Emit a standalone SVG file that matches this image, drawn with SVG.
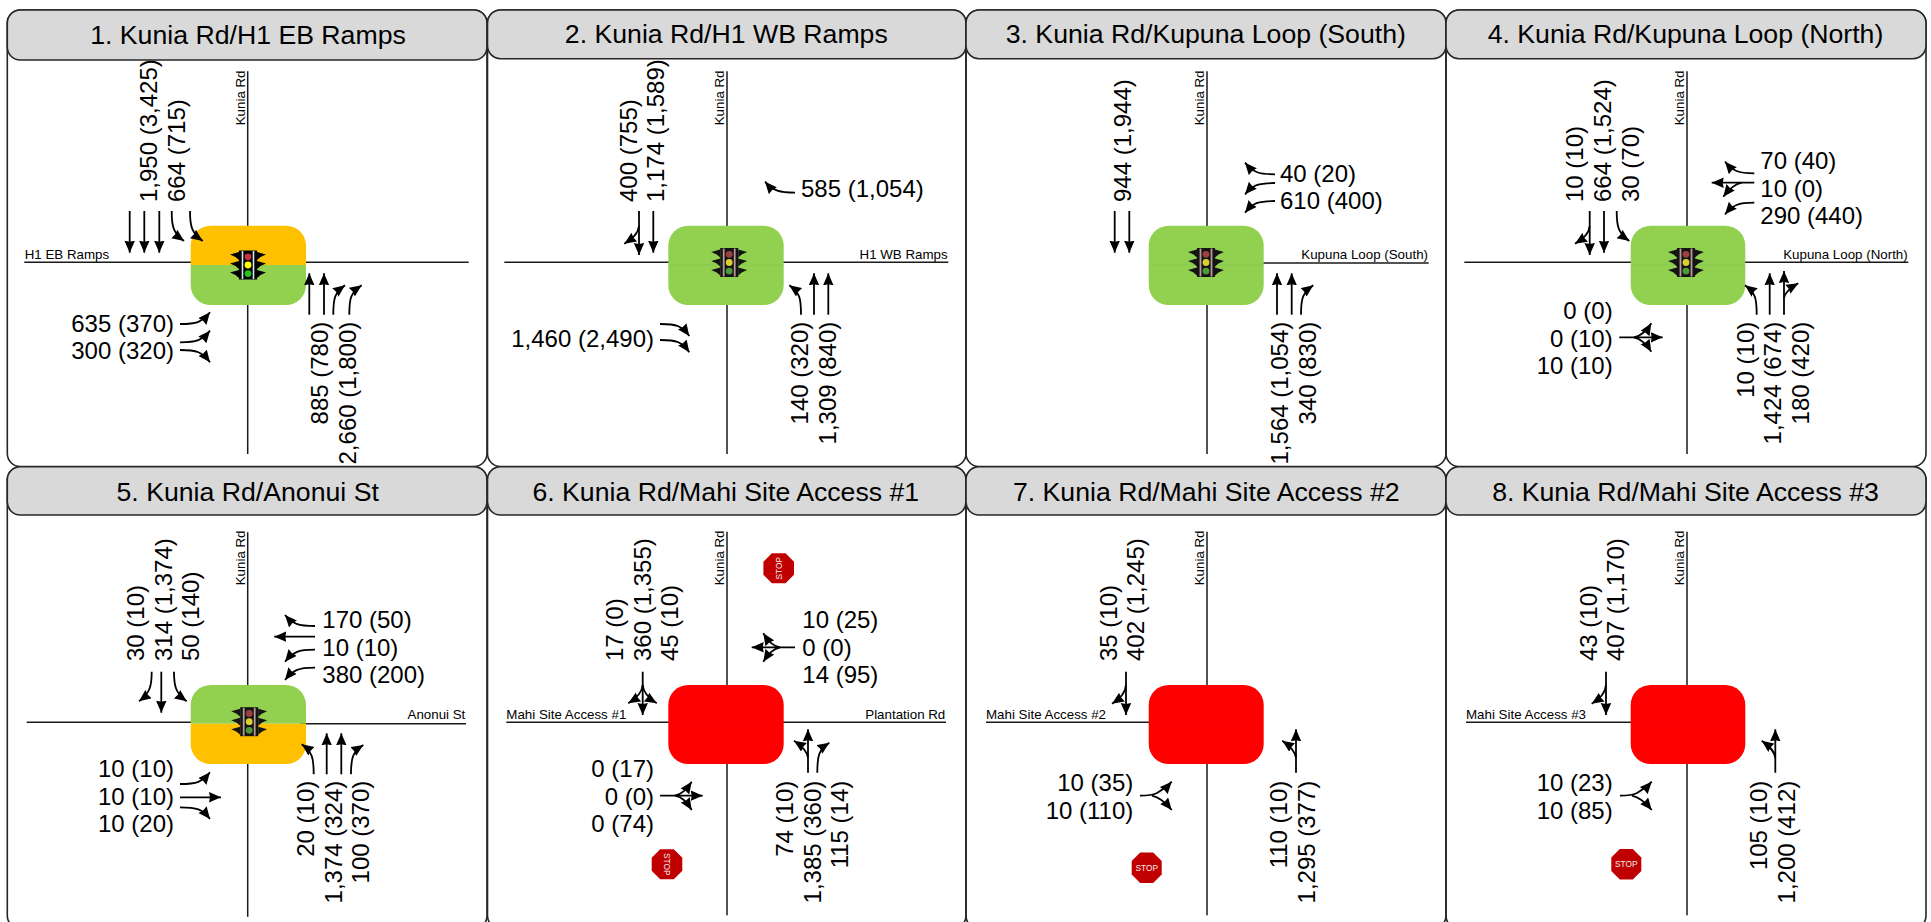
<svg xmlns="http://www.w3.org/2000/svg" width="1931" height="922" viewBox="0 0 1931 922">
<style>
text{font-family:"Liberation Sans",Arial,sans-serif;fill:#000}
.t{font-size:26.67px;text-anchor:middle}
.n{font-size:24px}
.e{text-anchor:end}
.r{font-size:13.33px}
.s{font-size:8.3px;fill:#eee;text-anchor:middle}
.p{fill:none;stroke:#262626;stroke-width:1.6}
.h{fill:#d9d9d9;stroke:#262626;stroke-width:1.6}
.road{stroke:#1a1a1a;stroke-width:1.5;fill:none}
.a{fill:none;stroke:#000;stroke-width:1.8;marker-end:url(#ah)}
.g{fill:#92d050}.o{fill:#ffc000}.x{fill:#f00}
.seam{stroke:#000;stroke-opacity:.05;stroke-width:1}
.oct{fill:#c00000}
</style>
<defs>
<marker id="ah" markerUnits="userSpaceOnUse" markerWidth="13" markerHeight="11" refX="12" refY="5.250" orient="auto"><path d="M0 0L12 5.250L0 10.500L1 5.250z" fill="#000"/></marker>
<g id="vis"><path d="M-9-13L-18-10.500L-12.500-8L-9-5z"/><path d="M9-13L18-10.500L12.500-8L9-5z"/></g>
<g id="sigA">
<use href="#vis"/><use href="#vis" y="9"/><use href="#vis" y="18"/>
<rect x="-9" y="-14.500" width="18" height="29" fill="#000"/>
<path d="M-5.500-14V14M5.500-14V14" stroke="#cfe4f5" stroke-width="1.600"/>
<circle cy="-8.200" r="3.400" fill="#c8323c"/><circle cy="0" r="3.400" fill="#ff0"/><circle cy="8.600" r="3.400" fill="#22c422"/>
</g>
<g id="sigB">
<use href="#vis" fill="#141414"/><use href="#vis" y="9" fill="#141414"/><use href="#vis" y="18" fill="#141414"/>
<rect x="-9" y="-14.500" width="18" height="29" fill="#141414"/>
<path d="M-5.500-14V14M5.500-14V14" stroke="#b89a9a" stroke-width="1.800"/>
<circle cy="-8.200" r="3.400" fill="#9c3f3f"/><circle cy="0" r="3.400" fill="#d8d030"/><circle cy="8.600" r="3.400" fill="#4f9a3a"/>
</g>
<polygon id="oct" points="-6.500,-15.300 6.500,-15.300 15,-6.800 15,6.800 6.500,15.300 -6.500,15.300 -15,6.800 -15,-6.800"/>
</defs>
<rect width="1931" height="922" fill="#fff"/>

<g id="roads" class="road">
<path d="M247.700 71.300V454M24.300 262.300H468.700"/>
<path d="M727 71.300V454M504.300 262.300H948.300"/>
<path d="M1207 71.300V454M1263 263H1428.700"/>
<path d="M1687 71.300V454M1464.300 262.300H1908.300"/>
<path d="M247.700 532.300V916.700M26.700 722.300H200M300 723.700H466"/>
<path d="M727 531.700V915.300M506.300 722.300H946"/>
<path d="M1207 531.700V915.300M986 722.300H1160"/>
<path d="M1687 531.700V915.300M1466 722.300H1640"/>
</g>

<g id="panel-1">
<rect class="p" x="7.300" y="10" width="479.700" height="456.500" rx="13"/>
<rect class="h" x="7.300" y="10" width="479.700" height="50" rx="13"/>
<text class="t" x="248" y="44.300">1. Kunia Rd/H1 EB Ramps</text>
<path class="o" d="M190.700 265V245.700a20 20 0 0 1 20-20h75.300a20 20 0 0 1 20 20V265z"/>
<path class="g" d="M190.700 265V285a20 20 0 0 0 20 20h75.300a20 20 0 0 0 20-20V265z"/>
<use href="#sigA" x="248" y="265"/>
<text class="r" transform="translate(245 125.300) rotate(-90)">Kunia Rd</text>
<text class="r" x="24.700" y="259.300">H1 EB Ramps</text>
<text class="n" transform="translate(157.300 202) rotate(-90)">1,950 (3,425)</text>
<text class="n" transform="translate(185 202) rotate(-90)">664 (715)</text>
<text class="n e" x="174" y="331.700">635 (370)</text>
<text class="n e" x="174" y="359.300">300 (320)</text>
<text class="n e" transform="translate(328.300 321.700) rotate(-90)">885 (780)</text>
<text class="n e" transform="translate(356 321.700) rotate(-90)">2,660 (1,800)</text>
</g>

<g id="panel-2">
<rect class="p" x="487.500" y="10" width="478.500" height="456.500" rx="13"/>
<rect class="h" x="487.500" y="10" width="478.500" height="48.700" rx="13"/>
<text class="t" x="726.300" y="43.300">2. Kunia Rd/H1 WB Ramps</text>
<rect class="g" x="668.300" y="225.700" width="115.400" height="79.300" rx="20"/>
<line class="seam" x1="668.300" y1="265" x2="783.700" y2="265"/>
<use href="#sigB" x="729.200" y="262.500"/>
<text class="r" transform="translate(724 125.300) rotate(-90)">Kunia Rd</text>
<text class="r e" x="947.700" y="259.300">H1 WB Ramps</text>
<text class="n" transform="translate(636.700 202) rotate(-90)">400 (755)</text>
<text class="n" transform="translate(664.300 202) rotate(-90)">1,174 (1,589)</text>
<text class="n" x="801" y="196.700">585 (1,054)</text>
<text class="n e" x="654" y="346.700">1,460 (2,490)</text>
<text class="n e" transform="translate(808.300 321.700) rotate(-90)">140 (320)</text>
<text class="n e" transform="translate(836 321.700) rotate(-90)">1,309 (840)</text>
</g>

<g id="panel-3">
<rect class="p" x="966" y="10" width="480" height="456.500" rx="13"/>
<rect class="h" x="966" y="10" width="480" height="48.700" rx="13"/>
<text class="t" x="1205.800" y="43.300">3. Kunia Rd/Kupuna Loop (South)</text>
<rect class="g" x="1148.700" y="225.700" width="115" height="79.300" rx="20"/>
<line class="seam" x1="1148.700" y1="265" x2="1263.700" y2="265"/>
<use href="#sigB" x="1206" y="262.500"/>
<text class="r" transform="translate(1204 125.300) rotate(-90)">Kunia Rd</text>
<text class="r e" x="1428" y="259.300">Kupuna Loop (South)</text>
<text class="n" transform="translate(1130.700 202) rotate(-90)">944 (1,944)</text>
<text class="n" x="1280" y="181.700">40 (20)</text>
<text class="n" x="1280" y="209.300">610 (400)</text>
<text class="n e" transform="translate(1288.300 321.700) rotate(-90)">1,564 (1,054)</text>
<text class="n e" transform="translate(1316 321.700) rotate(-90)">340 (830)</text>
</g>

<g id="panel-4">
<rect class="p" x="1446" y="10" width="480" height="456.500" rx="13"/>
<rect class="h" x="1446" y="10" width="480" height="48.700" rx="13"/>
<text class="t" x="1685.500" y="43.300">4. Kunia Rd/Kupuna Loop (North)</text>
<rect class="g" x="1630.700" y="225.700" width="114.600" height="79.300" rx="20"/>
<line class="seam" x1="1630.700" y1="265" x2="1745.300" y2="265"/>
<use href="#sigB" x="1686" y="262.500"/>
<text class="r" transform="translate(1684 125.300) rotate(-90)">Kunia Rd</text>
<text class="r e" x="1907.700" y="259.300">Kupuna Loop (North)</text>
<text class="n" transform="translate(1583.300 202) rotate(-90)">10 (10)</text>
<text class="n" transform="translate(1611 202) rotate(-90)">664 (1,524)</text>
<text class="n" transform="translate(1638.700 202) rotate(-90)">30 (70)</text>
<text class="n" x="1760.300" y="169">70 (40)</text>
<text class="n" x="1760.300" y="196.700">10 (0)</text>
<text class="n" x="1760.300" y="224">290 (440)</text>
<text class="n e" x="1612.700" y="319">0 (0)</text>
<text class="n e" x="1612.700" y="346.700">0 (10)</text>
<text class="n e" x="1612.700" y="374">10 (10)</text>
<text class="n e" transform="translate(1753.700 321.700) rotate(-90)">10 (10)</text>
<text class="n e" transform="translate(1781 321.700) rotate(-90)">1,424 (674)</text>
<text class="n e" transform="translate(1808.700 321.700) rotate(-90)">180 (420)</text>
</g>

<g id="panel-5">
<rect class="p" x="7.300" y="466.700" width="479.700" height="462" rx="13"/>
<rect class="h" x="7.300" y="466.700" width="479.700" height="48.300" rx="13"/>
<text class="t" x="247.700" y="500.700">5. Kunia Rd/Anonui St</text>
<path class="g" d="M190.700 723.700V705a20 20 0 0 1 20-20h75.300a20 20 0 0 1 20 20V723.700z"/>
<path class="o" d="M190.700 723.700V744a20 20 0 0 0 20 20h75.300a20 20 0 0 0 20-20V723.700z"/>
<use href="#sigB" x="249.200" y="721.700"/>
<text class="r" transform="translate(244.700 585.300) rotate(-90)">Kunia Rd</text>
<text class="r e" x="465.300" y="719.300">Anonui St</text>
<text class="n" transform="translate(144 661) rotate(-90)">30 (10)</text>
<text class="n" transform="translate(171.700 661) rotate(-90)">314 (1,374)</text>
<text class="n" transform="translate(199.300 661) rotate(-90)">50 (140)</text>
<text class="n" x="322.300" y="627.700">170 (50)</text>
<text class="n" x="322.300" y="655.700">10 (10)</text>
<text class="n" x="322.300" y="683.300">380 (200)</text>
<text class="n e" x="174" y="776.700">10 (10)</text>
<text class="n e" x="174" y="804.700">10 (10)</text>
<text class="n e" x="174" y="832">10 (20)</text>
<text class="n e" transform="translate(314 780.700) rotate(-90)">20 (10)</text>
<text class="n e" transform="translate(341.700 780.700) rotate(-90)">1,374 (324)</text>
<text class="n e" transform="translate(369.300 780.700) rotate(-90)">100 (370)</text>
</g>

<g id="panel-6">
<rect class="p" x="487.500" y="466.700" width="478.500" height="462" rx="13"/>
<rect class="h" x="487.500" y="466.700" width="478.500" height="48.300" rx="13"/>
<text class="t" x="725.800" y="500.700">6. Kunia Rd/Mahi Site Access #1</text>
<rect class="x" x="668.300" y="685" width="115.400" height="79" rx="20"/>
<line class="seam" x1="668.300" y1="724" x2="783.700" y2="724"/>
<text class="r" transform="translate(724 585.300) rotate(-90)">Kunia Rd</text>
<text class="r" x="506.300" y="719.300">Mahi Site Access #1</text>
<text class="r e" x="945.300" y="719.300">Plantation Rd</text>
<text class="n" transform="translate(623.300 661) rotate(-90)">17 (0)</text>
<text class="n" transform="translate(651 661) rotate(-90)">360 (1,355)</text>
<text class="n" transform="translate(678.300 661) rotate(-90)">45 (10)</text>
<text class="n" x="802.300" y="627.700">10 (25)</text>
<text class="n" x="802.300" y="655.700">0 (0)</text>
<text class="n" x="802.300" y="683.300">14 (95)</text>
<text class="n e" x="654" y="776.700">0 (17)</text>
<text class="n e" x="654" y="804.700">0 (0)</text>
<text class="n e" x="654" y="832">0 (74)</text>
<text class="n e" transform="translate(793.300 780.700) rotate(-90)">74 (10)</text>
<text class="n e" transform="translate(821 780.700) rotate(-90)">1,385 (360)</text>
<text class="n e" transform="translate(848.300 780.700) rotate(-90)">115 (14)</text>
<g id="stop-6a" transform="translate(778.700 568.300) rotate(-90)"><use href="#oct" class="oct"/><text class="s" y="3">STOP</text></g>
<g id="stop-6b" transform="translate(667 864.300) rotate(90)"><use href="#oct" class="oct"/><text class="s" y="3">STOP</text></g>
</g>

<g id="panel-7">
<rect class="p" x="966" y="466.700" width="480" height="462" rx="13"/>
<rect class="h" x="966" y="466.700" width="480" height="48.300" rx="13"/>
<text class="t" x="1206.300" y="500.700">7. Kunia Rd/Mahi Site Access #2</text>
<rect class="x" x="1148.700" y="685" width="115" height="79" rx="20"/>
<line class="seam" x1="1148.700" y1="724" x2="1263.700" y2="724"/>
<text class="r" transform="translate(1204 585.300) rotate(-90)">Kunia Rd</text>
<text class="r" x="986" y="719.300">Mahi Site Access #2</text>
<text class="n" transform="translate(1116.700 661) rotate(-90)">35 (10)</text>
<text class="n" transform="translate(1144.300 661) rotate(-90)">402 (1,245)</text>
<text class="n e" x="1133.300" y="791">10 (35)</text>
<text class="n e" x="1133.300" y="819">10 (110)</text>
<text class="n e" transform="translate(1286.700 780.700) rotate(-90)">110 (10)</text>
<text class="n e" transform="translate(1315 780.700) rotate(-90)">1,295 (377)</text>
<g id="stop-7" transform="translate(1146.700 867.700)"><use href="#oct" class="oct"/><text class="s" y="3">STOP</text></g>
</g>

<g id="panel-8">
<rect class="p" x="1446" y="466.700" width="480" height="462" rx="13"/>
<rect class="h" x="1446" y="466.700" width="480" height="48.300" rx="13"/>
<text class="t" x="1685.500" y="500.700">8. Kunia Rd/Mahi Site Access #3</text>
<rect class="x" x="1630.700" y="685" width="114.600" height="79" rx="20"/>
<line class="seam" x1="1630.700" y1="724" x2="1745.300" y2="724"/>
<text class="r" transform="translate(1684 585.300) rotate(-90)">Kunia Rd</text>
<text class="r" x="1466" y="719.300">Mahi Site Access #3</text>
<text class="n" transform="translate(1596.700 661) rotate(-90)">43 (10)</text>
<text class="n" transform="translate(1624.300 661) rotate(-90)">407 (1,170)</text>
<text class="n e" x="1612.700" y="791">10 (23)</text>
<text class="n e" x="1612.700" y="819">10 (85)</text>
<text class="n e" transform="translate(1766.700 780.700) rotate(-90)">105 (10)</text>
<text class="n e" transform="translate(1795 780.700) rotate(-90)">1,200 (412)</text>
<g id="stop-8" transform="translate(1626.300 864.300)"><use href="#oct" class="oct"/><text class="s" y="3">STOP</text></g>
</g>

<g id="connectors">
<g id="arrows-1">
<path class="a" d="M129.700 211V252.700"/><path class="a" d="M144.300 211V252.700"/><path class="a" d="M159.300 211V252.700"/>
<path class="a" d="M171.700 211C171.700 226 173 233 184 241"/><path class="a" d="M190 211C190 226 191.500 233 202.700 241"/>
<path class="a" d="M309.300 314.700V273.300"/><path class="a" d="M324 314.700V273.300"/>
<path class="a" d="M333.300 314.700C333.300 298 334.500 293 345 285.300"/><path class="a" d="M349.300 314.700C349.300 298 350.500 293 361.700 285.300"/>
<path class="a" d="M180 324C197 324 202 322 210 312.300"/><path class="a" d="M180 342.300C197 342.300 202 340.300 210 330.700"/><path class="a" d="M180 350C197 350 202 352 210 362.300"/>
</g>
<g id="arrows-2">
<path class="a" d="M639 211V255"/><path class="a" d="M639 226C638 234 633 238 624.300 243.700"/><path class="a" d="M653.300 211V252.700"/>
<path class="a" d="M795 192.700C780 192.700 773 191 765 181.700"/>
<path class="a" d="M660 324C677 324 682 326 689.300 336"/><path class="a" d="M660 340C677 340 682 342 689.300 352.300"/>
<path class="a" d="M801 314.700C801 298 800 293 789.300 285.300"/><path class="a" d="M814 314.700V273.300"/><path class="a" d="M828.300 314.700V273.300"/>
</g>
<g id="arrows-3">
<path class="a" d="M1114.700 211V252.700"/><path class="a" d="M1129.300 211V252.700"/>
<path class="a" d="M1275 174.300C1258 174.300 1253 172 1245 162.700"/><path class="a" d="M1275 183C1258 183 1253 185 1245 194.300"/><path class="a" d="M1275 201C1258 201 1253 203 1245 212.700"/>
<path class="a" d="M1277 314.700V273.300"/><path class="a" d="M1291.700 314.700V273.300"/><path class="a" d="M1301 314.700C1301 298 1302.500 293 1313.300 285.300"/>
</g>
<g id="arrows-4">
<path class="a" d="M1589.700 211V255"/><path class="a" d="M1589.700 226C1588.700 234 1584 238 1575 243.700"/><path class="a" d="M1604 211V252.700"/>
<path class="a" d="M1616.700 211C1616.700 226 1618 233 1629.300 241"/>
<path class="a" d="M1754.300 173.300C1738 173.300 1733 171 1725 161.700"/>
<path class="a" d="M1754.300 182.700H1711.700"/><path class="a" d="M1741.700 182.700C1735 184 1730 188 1723.300 196.700"/>
<path class="a" d="M1754.300 202.700C1738 202.700 1733 205 1725 214.300"/>
<path class="a" d="M1619.300 337.300H1662.700"/><path class="a" d="M1634 337.300C1641 336 1646 332 1651.300 323.300"/><path class="a" d="M1634 337.300C1641 339 1646 343 1651.300 351.700"/>
<path class="a" d="M1756.700 314.700C1756.700 298 1755.500 293 1745 285.300"/><path class="a" d="M1769.700 314.700V273.300"/><path class="a" d="M1784 314.700V271"/>
<path class="a" d="M1784 298C1785 292 1790 288 1798.300 283.300"/>
</g>
<g id="arrows-5">
<path class="a" d="M151.700 671.700C151.700 686 150 693 139 701.300"/><path class="a" d="M161.300 671.700V712.700"/><path class="a" d="M174 671.700C174 686 175.500 693 186.700 701.300"/>
<path class="a" d="M315 626C298 626 293 624 285 615"/><path class="a" d="M315 636.700H274.300"/><path class="a" d="M315 649.700C298 649.700 293 652 285 661.700"/><path class="a" d="M315 667.700C298 667.700 293 670 285 680"/>
<path class="a" d="M180 784C197 784 202 782 210 772.300"/><path class="a" d="M180 797.300H221"/><path class="a" d="M180 807.300C197 807.300 202 809 210 819"/>
<path class="a" d="M313.700 774.300C313.700 758 312.500 752 301.700 744.300"/><path class="a" d="M326.700 774.300V733.300"/><path class="a" d="M341.300 774.300V733.300"/><path class="a" d="M351 774.300C351 758 352.500 752 363.300 745"/>
</g>
<g id="arrows-6">
<path class="a" d="M642.700 671.700V715"/><path class="a" d="M642.700 685C642 693 637 698 628.300 703.300"/><path class="a" d="M642.700 685C643.500 693 648 698 656.700 703.300"/>
<path class="a" d="M795 647.300H751.700"/><path class="a" d="M780 647.300C773 646 769 642 763.300 633.300"/><path class="a" d="M780 647.300C773 649 769 653 763.300 661.700"/>
<path class="a" d="M660 795.700H702.700"/><path class="a" d="M675 795.700C682 794 686 790 691.700 781.700"/><path class="a" d="M675 795.700C682 797 686 801 691.700 810"/>
<path class="a" d="M808 772.700V729.300"/><path class="a" d="M808 758C807.500 751 802 746 794 740.700"/><path class="a" d="M817.300 772.700C817.300 756 818.500 750 829.300 742.700"/>
</g>
<g id="arrows-7">
<path class="a" d="M1126 671.700V715"/><path class="a" d="M1126 685C1125.300 693 1120.500 698 1112 703.700"/>
<path class="a" d="M1140 795.700C1150 795.700 1153 795 1157 793C1162 790 1167 787 1171.700 781.700"/><path class="a" d="M1152 795.700C1158 797 1166 803 1171.700 810"/>
<path class="a" d="M1296 772.700V729.300"/><path class="a" d="M1296 758C1295.500 751 1290 746 1282.300 740.700"/>
</g>
<g id="arrows-8">
<path class="a" d="M1606 671.700V715"/><path class="a" d="M1606 685C1605.300 693 1600.500 698 1591.700 703.700"/>
<path class="a" d="M1620 795.700C1630 795.700 1633 795 1637 793C1642 790 1647 787 1651.700 781.700"/><path class="a" d="M1632 795.700C1638 797 1646 803 1651.700 810"/>
<path class="a" d="M1775.300 772.700V729.300"/><path class="a" d="M1775.300 758C1774.800 751 1769 746 1761.700 740.700"/>
</g>
</g>
</svg>
